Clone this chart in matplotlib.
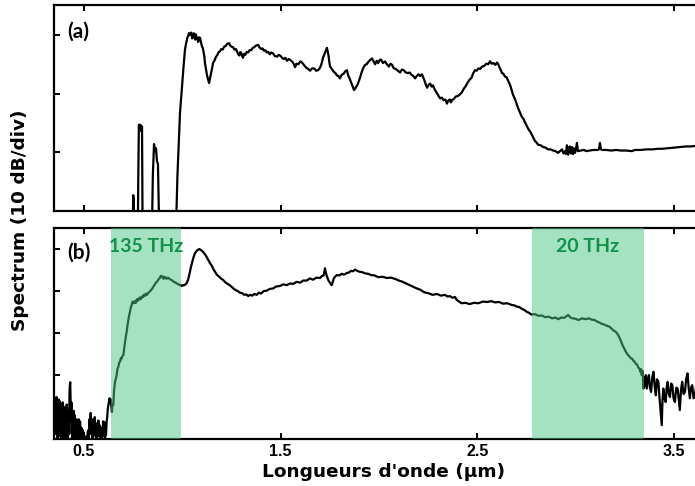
import matplotlib
matplotlib.use("Agg")
import matplotlib.pyplot as plt
import matplotlib.transforms as mtransforms

# ---- panel (a): spectrum, (wavelength um, power dB) ----
a_trace = [
    (0.347, -40), (0.745, -40), (0.750, -27.3), (0.753, -28), (0.756, -40),
    (0.772, -40), (0.776, -24), (0.779, -15.3), (0.783, -15.8), (0.787, -15.3),
    (0.791, -16.4), (0.795, -15.6), (0.799, -40), (0.842, -40), (0.850, -24),
    (0.856, -18.6), (0.861, -19.8), (0.866, -19.3), (0.871, -21.5), (0.876, -22),
    (0.886, -40), (0.962, -40), (0.975, -24.0), (0.988, -13.3), (1.000, -8.0),
    (1.007, -5.0), (1.013, -2.6), (1.018, -1.6), (1.022, -1.0), (1.026, -0.4),
    (1.029, -0.2), (1.034, 0.3), (1.040, 0.0), (1.045, 0.4), (1.050, -0.6),
    (1.054, -0.2), (1.058, 0.3), (1.062, -0.3), (1.065, -0.8), (1.069, 0.1),
    (1.072, -0.3), (1.076, -0.6), (1.080, -1.2), (1.085, -0.4), (1.090, -0.5),
    (1.095, -1.3), (1.100, -2.0), (1.104, -2.2), (1.108, -3.0), (1.112, -3.7),
    (1.115, -4.8), (1.120, -5.8), (1.125, -6.8), (1.130, -7.5), (1.136, -8.2),
    (1.141, -7.3), (1.146, -6.5), (1.151, -5.7), (1.156, -4.8), (1.163, -4.4),
    (1.170, -3.8), (1.178, -3.4), (1.185, -2.9), (1.191, -2.8), (1.198, -2.4),
    (1.205, -2.5), (1.212, -2.0), (1.220, -1.9), (1.228, -1.5), (1.237, -1.4),
    (1.243, -1.8), (1.250, -2.0), (1.258, -2.1), (1.265, -2.5), (1.272, -2.4),
    (1.278, -2.8), (1.284, -3.3), (1.290, -3.5), (1.295, -2.9), (1.300, -3.1),
    (1.304, -3.6), (1.308, -3.9), (1.314, -3.2), (1.320, -3.4), (1.327, -2.9),
    (1.334, -3.0), (1.342, -2.6), (1.350, -2.6), (1.358, -2.2), (1.365, -2.1),
    (1.375, -1.8), (1.385, -1.7), (1.392, -2.1), (1.400, -2.4), (1.408, -2.3),
    (1.415, -2.7), (1.422, -2.6), (1.430, -3.0), (1.437, -2.9), (1.445, -3.3),
    (1.452, -3.0), (1.460, -3.1), (1.470, -3.6), (1.481, -3.7), (1.490, -3.4),
    (1.500, -3.6), (1.507, -3.9), (1.515, -4.1), (1.524, -3.9), (1.532, -4.4),
    (1.541, -4.1), (1.550, -4.3), (1.560, -4.6), (1.567, -5.0), (1.573, -5.5),
    (1.580, -4.9), (1.590, -5.0), (1.600, -4.5), (1.608, -4.7), (1.618, -5.1),
    (1.630, -5.6), (1.640, -5.8), (1.649, -6.1), (1.660, -5.7), (1.670, -5.7),
    (1.680, -6.1), (1.690, -6.0), (1.698, -5.7), (1.705, -5.2), (1.710, -4.6),
    (1.715, -3.9), (1.722, -3.3), (1.728, -2.8), (1.735, -2.2), (1.739, -2.8),
    (1.743, -3.5), (1.747, -4.6), (1.751, -5.4), (1.760, -5.8), (1.770, -6.3),
    (1.778, -6.5), (1.786, -6.9), (1.794, -7.0), (1.801, -7.4), (1.810, -6.8),
    (1.820, -6.6), (1.828, -6.2), (1.837, -6.0), (1.842, -6.8), (1.850, -7.4),
    (1.858, -8.1), (1.866, -8.8), (1.873, -9.4), (1.881, -9.0), (1.890, -8.5),
    (1.897, -7.9), (1.903, -7.3), (1.912, -6.3), (1.920, -5.6), (1.929, -5.1),
    (1.937, -5.0), (1.945, -4.6), (1.954, -4.3), (1.964, -4.0), (1.972, -4.5),
    (1.980, -5.0), (1.988, -4.4), (1.995, -4.8), (2.003, -4.3), (2.010, -4.2),
    (2.020, -4.8), (2.030, -4.5), (2.040, -5.0), (2.050, -5.4), (2.058, -4.9),
    (2.066, -5.1), (2.075, -5.7), (2.085, -5.8), (2.096, -6.1), (2.107, -6.4),
    (2.116, -5.9), (2.125, -6.0), (2.136, -6.4), (2.147, -6.5), (2.156, -6.4),
    (2.165, -6.8), (2.174, -7.0), (2.183, -7.4), (2.192, -7.0), (2.200, -6.7),
    (2.209, -7.0), (2.218, -6.7), (2.224, -7.2), (2.230, -7.7), (2.237, -8.4),
    (2.244, -9.0), (2.252, -8.5), (2.260, -8.3), (2.267, -8.8), (2.274, -8.6),
    (2.283, -9.3), (2.292, -9.8), (2.301, -10.3), (2.310, -10.8), (2.319, -10.7),
    (2.328, -11.1), (2.337, -11.0), (2.345, -11.7), (2.352, -11.2), (2.360, -11.0),
    (2.365, -11.5), (2.371, -11.1), (2.380, -10.9), (2.390, -10.5), (2.401, -10.4),
    (2.412, -10.1), (2.421, -9.8), (2.430, -9.2), (2.441, -8.7), (2.452, -8.0),
    (2.461, -7.6), (2.470, -7.3), (2.479, -6.5), (2.488, -6.0), (2.496, -6.1),
    (2.505, -5.7), (2.514, -5.8), (2.523, -5.4), (2.534, -5.3), (2.545, -4.9),
    (2.555, -5.0), (2.564, -4.5), (2.573, -4.9), (2.582, -4.8), (2.591, -5.1),
    (2.600, -4.7), (2.606, -5.0), (2.612, -5.5), (2.619, -6.0), (2.625, -6.5),
    (2.632, -6.6), (2.640, -7.1), (2.648, -7.2), (2.656, -7.8), (2.663, -8.3),
    (2.670, -8.9), (2.676, -9.6), (2.681, -10.2), (2.688, -10.7), (2.695, -11.3),
    (2.700, -11.8), (2.706, -12.4), (2.716, -13.2), (2.725, -13.9), (2.734, -14.3),
    (2.742, -14.9), (2.751, -15.5), (2.760, -16.1), (2.769, -16.5), (2.778, -17.1),
    (2.786, -17.6), (2.793, -18.1), (2.800, -18.3), (2.808, -18.7), (2.821, -18.8),
    (2.835, -19.1), (2.847, -19.2), (2.859, -19.5), (2.872, -19.5), (2.885, -19.7),
    (2.897, -19.8), (2.910, -20.1), (2.920, -19.8), (2.930, -19.5), (2.938, -20.2),
    (2.945, -19.8), (2.950, -20.3), (2.955, -18.8), (2.961, -20.4), (2.966, -19.2),
    (2.970, -19.0), (2.975, -20.2), (2.981, -19.1), (2.986, -20.3), (2.990, -19.3),
    (2.996, -20.1), (3.001, -19.5), (3.006, -18.4), (3.011, -19.8), (3.025, -19.7),
    (3.040, -19.6), (3.055, -19.8), (3.070, -19.7), (3.090, -19.6), (3.113, -19.6),
    (3.118, -19.5), (3.123, -18.4), (3.128, -19.5), (3.133, -19.6), (3.155, -19.6),
    (3.180, -19.7), (3.205, -19.6), (3.230, -19.7), (3.258, -19.7), (3.286, -19.8),
    (3.300, -19.6), (3.330, -19.6), (3.360, -19.5), (3.390, -19.5), (3.415, -19.4),
    (3.439, -19.4), (3.470, -19.3), (3.500, -19.2), (3.530, -19.1), (3.560, -19.0),
    (3.585, -19.0), (3.606, -18.9), (3.660, -18.8),
]

# ---- panel (b): broadened spectrum, (wavelength um, power dB) ----
b_trace = [
    (0.347, -35.7), (0.350, -41), (0.352, -37), (0.354, -44), (0.356, -36.5),
    (0.358, -40), (0.360, -35.2), (0.362, -43), (0.364, -38), (0.366, -45),
    (0.368, -37.5), (0.370, -39.5), (0.372, -35.8), (0.374, -42), (0.376, -36.2),
    (0.378, -44.5), (0.380, -38.5), (0.382, -41.5), (0.384, -36.8), (0.386, -45),
    (0.388, -39), (0.390, -43), (0.392, -36.5), (0.394, -41), (0.396, -37.5),
    (0.398, -46), (0.400, -40), (0.402, -42.5), (0.404, -38), (0.406, -45),
    (0.408, -39.5), (0.410, -43.5), (0.412, -37), (0.414, -44), (0.416, -40),
    (0.418, -46), (0.420, -42), (0.422, -38.5), (0.424, -44), (0.426, -35),
    (0.428, -32.5), (0.430, -31.7), (0.432, -37), (0.434, -41), (0.436, -36.5),
    (0.438, -44), (0.440, -39), (0.442, -45.5), (0.444, -40.5), (0.446, -43),
    (0.448, -38.5), (0.450, -42), (0.452, -39.5), (0.454, -45), (0.456, -41),
    (0.458, -46), (0.460, -40.5), (0.462, -43.5), (0.464, -41.5), (0.466, -46),
    (0.468, -42.5), (0.470, -44.5), (0.472, -40.5), (0.474, -46), (0.476, -41.5),
    (0.478, -44), (0.480, -41), (0.483, -46), (0.486, -42.5), (0.489, -45.5),
    (0.492, -43), (0.495, -46), (0.498, -43.6), (0.501, -46), (0.504, -44.5),
    (0.507, -46), (0.510, -44.8), (0.513, -46), (0.516, -45), (0.519, -43.5),
    (0.522, -43.1), (0.525, -45), (0.528, -40.5), (0.531, -42.5), (0.534, -39.0),
    (0.537, -44), (0.540, -41.5), (0.543, -45), (0.546, -40.5), (0.549, -44.5),
    (0.552, -41), (0.555, -40), (0.558, -43.5), (0.561, -41.5), (0.564, -45),
    (0.567, -42.5), (0.570, -44), (0.573, -40.8), (0.576, -44.5), (0.579, -41.9),
    (0.582, -46), (0.585, -43), (0.588, -45), (0.591, -42.5), (0.594, -44.5),
    (0.597, -41), (0.600, -43.5), (0.603, -41.2), (0.606, -46), (0.609, -43.5),
    (0.612, -44.3), (0.615, -41), (0.618, -40), (0.621, -38), (0.624, -37.1),
    (0.627, -36.2), (0.630, -35.5), (0.633, -36.5), (0.636, -35.8), (0.639, -37.5),
    (0.642, -38.8), (0.645, -37.0), (0.649, -37.1), (0.653, -33.5), (0.658, -31.6),
    (0.662, -30.8), (0.666, -30.0), (0.670, -28.5), (0.675, -28.0), (0.679, -27.0),
    (0.683, -26.8), (0.687, -26.0), (0.690, -26.2), (0.695, -25.5), (0.700, -25.2),
    (0.704, -23.8), (0.708, -22.5), (0.712, -21.0), (0.717, -19.7), (0.721, -18.2),
    (0.725, -17.0), (0.730, -15.7), (0.734, -14.9), (0.738, -13.9), (0.742, -13.4),
    (0.746, -12.6), (0.751, -12.5), (0.755, -12.9), (0.760, -12.4), (0.764, -12.8),
    (0.768, -12.0), (0.772, -12.3), (0.776, -11.8), (0.780, -12.1), (0.785, -11.5),
    (0.789, -11.9), (0.793, -11.6), (0.797, -11.2), (0.801, -11.4), (0.806, -10.8),
    (0.812, -11.1), (0.816, -10.6), (0.820, -10.9), (0.827, -10.4), (0.833, -10.2),
    (0.840, -9.8), (0.846, -9.5), (0.852, -9.0), (0.858, -8.6), (0.865, -8.0),
    (0.871, -7.8), (0.878, -7.3), (0.882, -7.0), (0.886, -6.9), (0.890, -6.4),
    (0.895, -6.7), (0.900, -6.5), (0.905, -7.1), (0.909, -6.6), (0.912, -6.9),
    (0.916, -6.8), (0.920, -7.1), (0.927, -6.8), (0.935, -7.1), (0.940, -7.3),
    (0.946, -7.4), (0.952, -7.6), (0.958, -7.9), (0.964, -7.9), (0.971, -8.2),
    (0.978, -8.3), (0.985, -8.6), (0.991, -8.5), (0.997, -8.8), (1.004, -8.6),
    (1.010, -8.6), (1.016, -8.4), (1.022, -8.1), (1.027, -7.6), (1.032, -6.8),
    (1.037, -5.8), (1.042, -4.6), (1.048, -3.5), (1.053, -2.6), (1.058, -1.8),
    (1.064, -1.0), (1.070, -0.6), (1.075, -0.3), (1.080, -0.2), (1.085, 0.0),
    (1.090, -0.1), (1.096, -0.3), (1.101, -0.5), (1.107, -0.8), (1.114, -1.2),
    (1.120, -1.6), (1.126, -2.1), (1.132, -2.6), (1.141, -3.4), (1.150, -4.0),
    (1.158, -4.8), (1.166, -5.4), (1.175, -6.1), (1.185, -6.5), (1.196, -7.0),
    (1.208, -7.4), (1.218, -7.9), (1.230, -8.3), (1.240, -8.6), (1.251, -9.0),
    (1.262, -9.5), (1.272, -9.8), (1.282, -10.0), (1.293, -10.4), (1.304, -10.5),
    (1.315, -10.9), (1.325, -10.8), (1.335, -11.2), (1.345, -10.9), (1.355, -11.1),
    (1.366, -10.7), (1.378, -10.9), (1.389, -10.4), (1.400, -10.6), (1.414, -10.0),
    (1.429, -9.9), (1.444, -9.5), (1.460, -9.4), (1.478, -8.9), (1.496, -8.8),
    (1.513, -8.4), (1.530, -8.6), (1.547, -8.2), (1.564, -8.3), (1.581, -7.8),
    (1.598, -8.0), (1.615, -7.5), (1.632, -7.5), (1.648, -7.0), (1.665, -7.3),
    (1.682, -6.8), (1.700, -6.9), (1.710, -6.4), (1.718, -6.3), (1.725, -4.6),
    (1.730, -5.8), (1.736, -6.6), (1.742, -7.4), (1.750, -8.0), (1.759, -8.6),
    (1.765, -7.8), (1.770, -7.0), (1.778, -6.5), (1.785, -6.2), (1.797, -6.3),
    (1.810, -5.9), (1.823, -6.1), (1.836, -5.7), (1.847, -5.6), (1.857, -5.2),
    (1.867, -5.3), (1.878, -4.9), (1.889, -5.2), (1.900, -5.4), (1.914, -5.5),
    (1.929, -5.8), (1.945, -5.9), (1.960, -6.2), (1.978, -6.3), (1.996, -6.7),
    (2.018, -6.6), (2.040, -6.9), (2.060, -6.8), (2.081, -7.1), (2.100, -7.5),
    (2.120, -7.8), (2.143, -8.3), (2.166, -8.8), (2.188, -9.3), (2.210, -9.7),
    (2.230, -10.3), (2.250, -10.5), (2.272, -10.9), (2.295, -10.7), (2.315, -11.1),
    (2.335, -10.9), (2.348, -11.3), (2.360, -11.2), (2.373, -11.6), (2.386, -11.4),
    (2.393, -12.0), (2.400, -12.3), (2.410, -12.6), (2.420, -12.9), (2.440, -12.8),
    (2.460, -13.1), (2.483, -12.8), (2.505, -12.9), (2.528, -12.5), (2.550, -12.6),
    (2.570, -12.4), (2.590, -12.7), (2.610, -12.6), (2.630, -13.0), (2.652, -12.9),
    (2.674, -13.3), (2.687, -13.4), (2.700, -13.7), (2.712, -13.8), (2.725, -14.2),
    (2.738, -14.5), (2.750, -14.9), (2.763, -15.2), (2.776, -15.6), (2.793, -15.5),
    (2.810, -15.9), (2.827, -15.8), (2.844, -16.2), (2.862, -16.1), (2.880, -16.5),
    (2.896, -16.3), (2.911, -16.7), (2.926, -16.3), (2.940, -16.4), (2.952, -16.0),
    (2.962, -15.7), (2.973, -16.3), (2.985, -16.5), (2.999, -16.6), (3.013, -16.9),
    (3.032, -16.5), (3.050, -16.7), (3.066, -16.5), (3.081, -16.8), (3.096, -16.9),
    (3.110, -17.3), (3.121, -17.5), (3.132, -17.8), (3.146, -18.0), (3.160, -18.3),
    (3.172, -18.5), (3.183, -19.0), (3.192, -19.4), (3.200, -19.6), (3.209, -20.0),
    (3.217, -20.6), (3.224, -21.3), (3.230, -21.9), (3.236, -22.7), (3.242, -23.3),
    (3.249, -23.9), (3.255, -24.5), (3.261, -24.9), (3.267, -25.3), (3.274, -25.6),
    (3.280, -26.0), (3.287, -26.1), (3.293, -26.6), (3.299, -26.8), (3.305, -27.3),
    (3.312, -27.5), (3.318, -28.2), (3.323, -28.4), (3.328, -29.2), (3.332, -28.6),
    (3.335, -30.0), (3.340, -29.0), (3.344, -33.2), (3.348, -30.5), (3.352, -32.5),
    (3.356, -30.0), (3.361, -33.2), (3.366, -31.0), (3.372, -30.0), (3.377, -33.0),
    (3.383, -34.0), (3.389, -30.5), (3.395, -29.2), (3.401, -32.5), (3.407, -34.8),
    (3.413, -31.0), (3.420, -31.6), (3.425, -35.0), (3.430, -37.9), (3.434, -40.0),
    (3.437, -41.9), (3.441, -36.0), (3.445, -33.2), (3.451, -35.5), (3.457, -36.4),
    (3.462, -33.0), (3.467, -31.6), (3.473, -34.5), (3.479, -35.2), (3.485, -32.0),
    (3.491, -32.4), (3.497, -35.5), (3.504, -36.4), (3.511, -33.0), (3.518, -33.2),
    (3.524, -36.0), (3.529, -38.3), (3.535, -33.5), (3.541, -31.6), (3.548, -34.5),
    (3.555, -34.0), (3.561, -31.0), (3.568, -29.6), (3.574, -33.0), (3.580, -35.5),
    (3.586, -33.0), (3.592, -32.4), (3.599, -35.5), (3.606, -34.8), (3.613, -32.0),
    (3.620, -33.0), (3.628, -36.0), (3.635, -35.5), (3.642, -32.0), (3.650, -31.0),
]

# highlighted bands (um) and their labels
bands = [(0.637, 0.993), (2.776, 3.347)]
band_labels = ["135 THz", "20 THz"]
panel_tags = ["(a)", "(b)"]
xticks = [0.5, 1.5, 2.5, 3.5]

a_wl, a_db = zip(*a_trace)
b_wl, b_db = zip(*b_trace)

W, H = 695, 486
fig = plt.figure(figsize=(W / 100, H / 100), dpi=100)

def frac_box(left, top, right, bottom):
    return [left / W, 1 - bottom / H, (right - left) / W, (bottom - top) / H]

ax_a = fig.add_axes(frac_box(54, 5, 705, 211))
ax_b = fig.add_axes(frac_box(54, 228, 705, 439))

tick_font = dict(family="Liberation Sans", weight="bold", size=11.5)

for ax in (ax_a, ax_b):
    ax.set_xlim(0.3475, 3.657)
    ax.set_xticks(xticks)
    for side in ("top", "bottom", "left"):
        ax.spines[side].set_linewidth(1.6)
    ax.spines["right"].set_visible(False)
    ax.tick_params(axis="both", direction="in", length=4.5, width=1.4,
                   top=True, bottom=True, left=True, right=False)
    ax.tick_params(axis="y", labelleft=False)

ax_a.set_ylim(-30, 5.1)
ax_a.set_yticks([-30, -20, -10, 0])
ax_a.tick_params(axis="x", labelbottom=False)
ax_a.plot(a_wl, a_db, color="black", lw=1.6, zorder=2)

ax_b.set_ylim(-45.2, 5.0)
ax_b.set_yticks([-40, -30, -20, -10, 0])
ax_b.set_xticklabels([str(t) for t in xticks], fontdict=tick_font)
ax_b.tick_params(axis="x", pad=3.5)
ax_b.plot(b_wl, b_db, color="black", lw=1.6, zorder=2)

trans = mtransforms.blended_transform_factory(ax_b.transData, ax_b.transAxes)
for (lo, hi), lab in zip(bands, band_labels):
    ax_b.axvspan(lo, hi, color="#4cc787", alpha=0.5, lw=0, zorder=3)
    ax_b.text((lo + hi) / 2, 0.91, lab, transform=trans, ha="center",
              va="center", color="#11914a", fontsize=14, fontweight="bold",
              family="Lato", zorder=4)

for ax, tag, ty in zip((ax_a, ax_b), panel_tags, (0.869, 0.881)):
    ax.text(0.02, ty, tag, transform=ax.transAxes, ha="left", va="center",
            fontsize=15, fontweight="bold", family="Lato")

fig.text(20 / W, 1 - 220 / H, "Spectrum (10 dB/div)", rotation=90,
         ha="center", va="center", fontsize=13.3, fontweight="bold",
         family="DejaVu Sans")
fig.text(384 / W, 1 - 472 / H, "Longueurs d'onde (µm)", ha="center",
         va="center", fontsize=13.3, fontweight="bold", family="DejaVu Sans")

fig.savefig("out.png", dpi=100)
